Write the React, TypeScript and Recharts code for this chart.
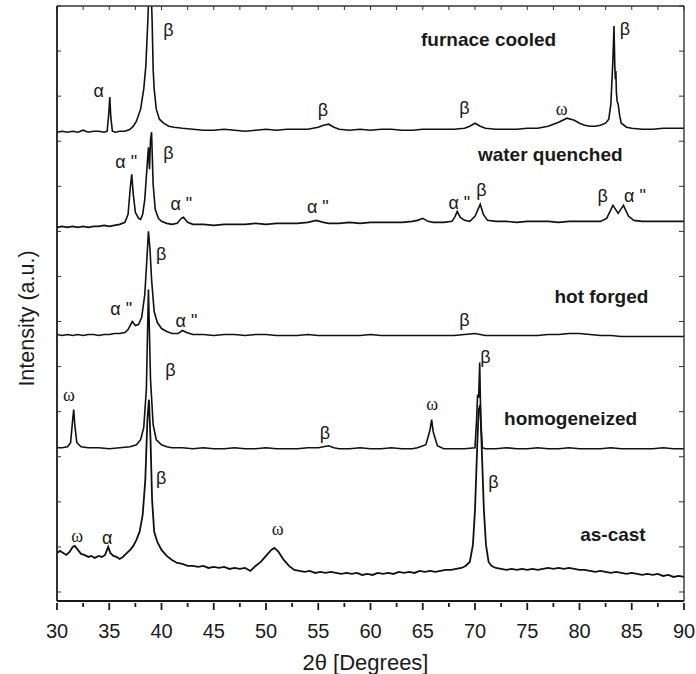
import { ComposedChart, Line, Scatter, XAxis, YAxis, Label } from "recharts";

// x = 2θ (deg), y = stacked intensity (a.u., each pattern already offset)
const X_TICKS = [30, 32.5, 35, 37.5, 40, 42.5, 45, 47.5, 50, 52.5, 55, 57.5, 60, 62.5, 65, 67.5, 70, 72.5, 75, 77.5, 80, 82.5, 85, 87.5, 90];
const Y_TICKS = [0, 45, 90, 135, 180, 225, 270, 315, 360, 405, 450, 495, 540, 585];

const FURNACE_COOLED: [number, number][] = [
  [30, 459], [30.5, 460], [31, 459], [31.5, 460], [32, 459], [32.5, 461], [33, 459], [33.5, 460], [34, 460], [34.5, 459],
  [34.8, 460], [34.95, 477], [35.05, 494], [35.15, 474], [35.3, 460], [35.6, 459], [36, 460], [36.5, 460], [37, 462],
  [37.3, 465], [37.6, 470], [38, 482], [38.3, 502], [38.5, 525], [38.7, 572], [38.8, 602], [39, 602], [39.1, 572],
  [39.2, 522], [39.3, 502], [39.5, 482], [39.8, 472], [40.2, 468], [40.7, 465], [41.2, 464], [42, 463], [43, 462],
  [44, 461], [45, 461], [46, 462], [47, 461], [48, 460], [49, 461], [50, 462], [51, 461], [52, 462], [53, 462], [54, 462],
  [55, 464], [55.5, 466], [56, 467], [56.5, 464], [57, 462], [58, 461], [59, 462], [60, 461], [61, 462], [62, 462],
  [63, 461], [64, 461], [65, 462], [66, 462], [67, 462], [68, 462], [69, 463], [69.5, 465], [70, 468], [70.5, 465],
  [71, 463], [72, 462], [73, 462], [74, 462], [75, 463], [76, 463], [77, 465], [78, 469], [78.8, 473], [79.5, 471],
  [80, 468], [80.5, 466], [81, 465], [81.5, 465], [82, 466], [82.5, 468], [82.8, 472], [83, 487], [83.2, 532],
  [83.3, 565], [83.38, 525], [83.43, 512], [83.48, 520], [83.53, 499], [83.6, 490], [83.7, 487], [83.85, 475],
  [84, 468], [84.5, 464], [85, 463], [86, 462], [87, 462], [88, 463], [89, 463], [90, 463],
];

const WATER_QUENCHED: [number, number][] = [
  [30, 364], [30.5, 365], [31, 364], [31.5, 365], [32, 364], [32.5, 365], [33, 364], [33.5, 365], [34, 365], [34.5, 366],
  [35, 365], [35.5, 366], [36, 367], [36.5, 369], [36.8, 377], [37, 402], [37.15, 417], [37.3, 397], [37.5, 379],
  [37.8, 373], [38, 372], [38.2, 377], [38.4, 392], [38.6, 422], [38.75, 444], [38.85, 422], [38.95, 452], [39.05, 459],
  [39.2, 407], [39.4, 382], [39.7, 373], [40, 370], [40.5, 368], [41, 367], [41.5, 368], [41.9, 373], [42.1, 374],
  [42.5, 369], [43, 367], [44, 367], [45, 366], [46, 367], [47, 367], [48, 367], [49, 368], [50, 367], [51, 368],
  [52, 368], [53, 368], [54, 369], [54.8, 371], [55.5, 369], [56, 368], [57, 368], [58, 369], [59, 368], [60, 369],
  [61, 369], [62, 369], [63, 369], [64, 370], [64.5, 371], [65, 373], [65.5, 370], [66, 369], [67, 369], [67.8, 370],
  [68.1, 375], [68.3, 380], [68.6, 374], [69, 371], [69.5, 370], [70, 375], [70.5, 387], [70.8, 377], [71.2, 371],
  [72, 370], [73, 370], [74, 369], [75, 370], [76, 370], [77, 370], [78, 369], [79, 370], [80, 370], [81, 370],
  [82, 370], [82.6, 373], [83.2, 386], [83.7, 378], [84.2, 386], [84.7, 375], [85.2, 371], [86, 370], [87, 370],
  [88, 370], [89, 370], [90, 370],
];

const HOT_FORGED: [number, number][] = [
  [30, 257], [30.5, 256], [31, 257], [31.5, 256], [32, 257], [32.5, 256], [33, 257], [33.5, 257], [34, 256], [34.5, 257],
  [35, 257], [35.5, 258], [36, 258], [36.5, 259], [36.8, 262], [37.2, 270], [37.5, 266], [37.8, 267], [38.1, 274],
  [38.4, 297], [38.6, 332], [38.75, 360], [38.9, 342], [39.05, 312], [39.3, 280], [39.6, 269], [40, 263], [40.5, 260],
  [41, 258], [41.6, 258], [42, 261], [42.4, 259], [43, 257], [44, 257], [45, 256], [46, 257], [47, 257], [48, 256],
  [49, 257], [50, 257], [51, 256], [52, 256], [53, 256], [54, 257], [55, 256], [56, 256], [57, 256], [58, 256],
  [59, 256], [60, 257], [61, 256], [62, 256], [63, 256], [64, 256], [65, 256], [66, 256], [67, 256], [68, 256],
  [69, 257], [70, 258], [70.5, 257], [71, 256], [72, 256], [73, 256], [74, 256], [75, 256], [76, 256], [77, 257],
  [78, 257], [79, 258], [80, 258], [81, 257], [82, 256], [83, 256], [84, 255], [85, 255], [86, 255], [87, 255],
  [88, 255], [89, 255], [90, 255],
];

const HOMOGENEIZED: [number, number][] = [
  [30, 144], [30.5, 144], [31, 145], [31.3, 149], [31.5, 172], [31.6, 182], [31.7, 167], [31.9, 149], [32.3, 145],
  [33, 144], [34, 144], [35, 143], [36, 144], [37, 145], [37.6, 147], [38, 152], [38.3, 164], [38.55, 202],
  [38.75, 302], [38.95, 212], [39.2, 167], [39.5, 152], [40, 147], [40.5, 145], [41, 144], [42, 144], [43, 143],
  [44, 144], [45, 143], [46, 143], [47, 144], [48, 143], [49, 143], [50, 144], [51, 143], [52, 143], [53, 143],
  [54, 144], [55, 144], [55.5, 145], [56, 146], [56.5, 144], [57, 143], [58, 143], [59, 144], [60, 143], [61, 143],
  [62, 144], [63, 143], [64, 143], [64.5, 144], [65.3, 147], [65.7, 162], [65.85, 172], [66, 160], [66.4, 146],
  [67, 143], [68, 143], [69, 143], [70, 144], [70.15, 172], [70.25, 197], [70.35, 194], [70.45, 229], [70.55, 172],
  [70.7, 144], [71, 143], [72, 143], [73, 144], [74, 143], [75, 143], [76, 144], [77, 143], [78, 143], [79, 144],
  [80, 143], [81, 143], [82, 143], [83, 144], [84, 143], [85, 143], [86, 143], [87, 143], [88, 144], [89, 143], [90, 143],
];

const AS_CAST: [number, number][] = [
  [30, 39], [30.3, 41], [30.6, 39], [30.9, 37], [31.2, 40], [31.5, 45], [31.7, 46], [32, 42], [32.3, 38], [32.6, 37],
  [33, 35], [33.3, 36], [33.6, 34], [34, 36], [34.3, 35], [34.6, 37], [34.9, 45], [35.1, 39], [35.4, 36], [35.7, 35],
  [36, 33], [36.3, 35], [36.6, 38], [37, 42], [37.3, 46], [37.6, 52], [37.9, 60], [38.2, 77], [38.45, 112],
  [38.65, 172], [38.8, 192], [38.95, 152], [39.1, 92], [39.3, 60], [39.6, 50], [40, 42], [40.5, 36], [41, 32],
  [41.5, 29], [42, 28], [42.5, 26], [43, 26], [43.5, 25], [44, 26], [44.5, 24], [45, 25], [45.5, 24], [46, 25],
  [46.5, 23], [47, 24], [47.5, 23], [48, 24], [48.5, 21], [49, 26], [49.5, 30], [50, 36], [50.5, 42], [50.8, 44],
  [51.2, 40], [51.7, 32], [52.2, 26], [52.7, 22], [53.2, 21], [53.7, 20], [54.2, 21], [54.7, 19], [55.2, 20],
  [55.7, 19], [56.2, 20], [56.7, 19], [57.2, 18], [57.7, 19], [58.2, 18], [58.7, 19], [59.2, 17], [59.7, 18],
  [60.2, 17], [60.7, 19], [61.2, 18], [61.7, 19], [62.2, 18], [62.7, 20], [63.2, 19], [63.7, 20], [64.2, 19],
  [64.7, 21], [65.2, 20], [65.7, 21], [66.2, 20], [66.7, 21], [67.2, 22], [67.7, 22], [68.2, 23], [68.7, 24],
  [69.1, 26], [69.5, 30], [69.8, 47], [70, 82], [70.2, 142], [70.35, 182], [70.5, 187], [70.65, 142], [70.85, 82],
  [71.05, 47], [71.3, 30], [71.6, 26], [72, 24], [72.5, 23], [73, 22], [73.5, 23], [74, 22], [74.5, 23], [75, 22],
  [75.5, 23], [76, 22], [76.5, 23], [77, 24], [77.5, 23], [78, 24], [78.5, 23], [79, 24], [79.5, 23], [80, 22],
  [80.5, 22], [81, 21], [81.5, 20], [82, 21], [82.5, 20], [83, 19], [83.5, 20], [84, 19], [84.5, 18], [85, 19],
  [85.5, 18], [86, 17], [86.5, 18], [87, 17], [87.5, 18], [88, 16], [88.5, 17], [89, 15], [89.5, 16], [90, 15],
];

const SAMPLE_LABELS = [
  { text: "furnace cooled", x: 71.3, y: 552 },
  { text: "water quenched", x: 77.2, y: 437 },
  { text: "hot forged", x: 82.1, y: 295 },
  { text: "homogeneized", x: 79.15, y: 173 },
  { text: "as-cast", x: 83.2, y: 57 },
];

const PHASE_LABELS = [
  { text: "α", x: 34.0, y: 500 },
  { text: "β", x: 40.66, y: 561 },
  { text: "β", x: 55.44, y: 481 },
  { text: "β", x: 68.98, y: 483 },
  { text: "ω", x: 78.29, y: 482 },
  { text: "β", x: 84.34, y: 562 },
  { text: "α \"", x: 36.62, y: 429 },
  { text: "β", x: 40.66, y: 438 },
  { text: "α \"", x: 41.9, y: 387 },
  { text: "α \"", x: 54.96, y: 384 },
  { text: "α \"", x: 68.5, y: 388 },
  { text: "β", x: 70.61, y: 401 },
  { text: "β", x: 82.22, y: 395 },
  { text: "α \"", x: 85.3, y: 395 },
  { text: "α \"", x: 36.14, y: 283 },
  { text: "β", x: 39.98, y: 337 },
  { text: "α \"", x: 42.38, y: 271 },
  { text: "β", x: 68.98, y: 272 },
  { text: "ω", x: 31.15, y: 197 },
  { text: "β", x: 40.85, y: 222 },
  { text: "β", x: 55.63, y: 159 },
  { text: "ω", x: 65.9, y: 188 },
  { text: "β", x: 70.99, y: 235 },
  { text: "β", x: 39.98, y: 114 },
  { text: "ω", x: 31.92, y: 56 },
  { text: "α", x: 34.8, y: 54 },
  { text: "ω", x: 51.12, y: 63 },
  { text: "β", x: 71.76, y: 110 },
];

const SERIES = [FURNACE_COOLED, WATER_QUENCHED, HOT_FORGED, HOMOGENEIZED, AS_CAST];

const toPts = (arr: [number, number][]) => arr.map(([x, y]) => ({ x, y }));

const FONT = "'Liberation Sans', Arial, sans-serif";
const INK = "#1a1a1a";

function BottomTick(props: any) {
  const { x, y, payload } = props;
  const major = payload.value % 5 === 0;
  return (
    <g>
      <line x1={x} x2={x} y1={y} y2={y + (major ? 7 : 4)} stroke={INK} strokeWidth={1.8} />
      {major && (
        <text x={x} y={y + 35} textAnchor="middle" fontSize={20} fontFamily={FONT} fill={INK}>
          {payload.value}
        </text>
      )}
    </g>
  );
}

export default function App() {
  return (
    <div style={{ position: "absolute", left: 0, top: 0, width: 696, height: 674, background: "#fff" }}>
      <ComposedChart width={696} height={674} margin={{ top: 6, right: 12, bottom: 72, left: 57 }}>
        <XAxis
          xAxisId="b" type="number" dataKey="x" domain={[30, 90]} ticks={X_TICKS} interval={0}
          height={1} tickSize={0} tickLine={false} tick={<BottomTick />}
          axisLine={{ stroke: INK, strokeWidth: 1.8 }} allowDataOverflow
        >
          <Label
            content={(p: any) => (
              <text x={p.viewBox.x + p.viewBox.width / 2 - 5} y={p.viewBox.y + 69} textAnchor="middle"
                fontSize={22} fontFamily={FONT} fill={INK}>
                2θ [Degrees]
              </text>
            )}
          />
        </XAxis>
        <XAxis
          xAxisId="t" orientation="top" type="number" dataKey="x" domain={[30, 90]} ticks={X_TICKS} interval={0}
          height={1} mirror tickSize={4} tickFormatter={() => ""}
          tickLine={{ stroke: "#333", strokeWidth: 1 }} axisLine={{ stroke: "#333", strokeWidth: 1.4 }} allowDataOverflow
        />
        <YAxis
          yAxisId="l" type="number" domain={[-9, 585]} ticks={Y_TICKS} interval={0} width={1} mirror tickSize={4}
          tickFormatter={() => ""} tickLine={{ stroke: "#333", strokeWidth: 1 }}
          axisLine={{ stroke: INK, strokeWidth: 1.8 }} allowDataOverflow
        >
          <Label
            content={(p: any) => {
              const cx = p.viewBox.x - 30;
              const cy = p.viewBox.y + p.viewBox.height / 2 + 15;
              return (
                <text x={cx} y={cy} textAnchor="middle" dominantBaseline="central" fontSize={21.5}
                  fontFamily={FONT} fill={INK} transform={`rotate(-90, ${cx}, ${cy})`}>
                  Intensity (a.u.)
                </text>
              );
            }}
          />
        </YAxis>
        <YAxis
          yAxisId="r" orientation="right" type="number" domain={[-9, 585]} ticks={Y_TICKS} interval={0} width={1}
          mirror tickSize={5} tickFormatter={() => ""} tickLine={{ stroke: "#333", strokeWidth: 1 }}
          axisLine={{ stroke: "#333", strokeWidth: 1.4 }} allowDataOverflow
        />

        {SERIES.map((s, i) => (
          <Line
            key={i} xAxisId="b" yAxisId="l" data={toPts(s)} dataKey="y" type="linear"
            stroke="#111" strokeWidth={i === 4 ? 1.8 : 1.6} dot={false} activeDot={false} isAnimationActive={false}
          />
        ))}

        <Scatter
          xAxisId="b" yAxisId="l" data={PHASE_LABELS} dataKey="y" isAnimationActive={false}
          shape={(p: any) => (
            <text x={p.cx} y={p.cy} textAnchor="middle" dominantBaseline="central" fontSize={18}
              fontFamily={p.payload.text === "ω" ? "'Liberation Serif', serif" : FONT} fill={INK}>
              {p.payload.text}
            </text>
          )}
        />
        <Scatter
          xAxisId="b" yAxisId="l" data={SAMPLE_LABELS} dataKey="y" isAnimationActive={false}
          shape={(p: any) => (
            <text x={p.cx} y={p.cy} textAnchor="middle" dominantBaseline="central" fontSize={19}
              fontWeight="bold" fontFamily={FONT} fill={INK}>
              {p.payload.text}
            </text>
          )}
        />
      </ComposedChart>
    </div>
  );
}
